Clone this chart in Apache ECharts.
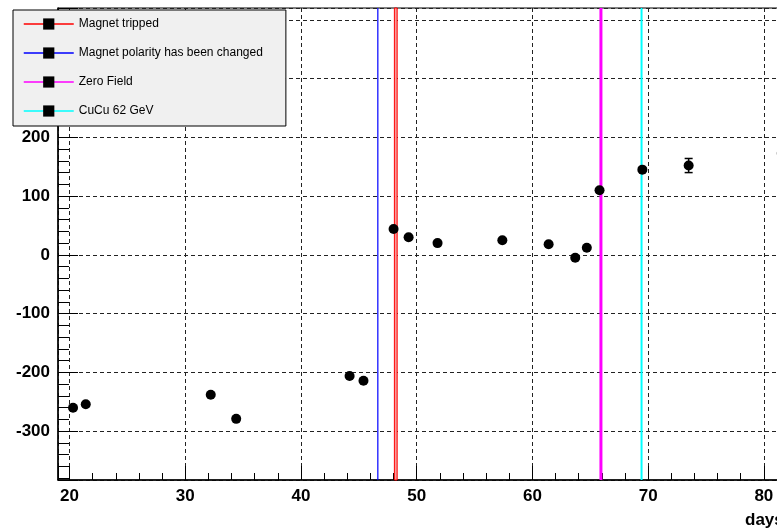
<!DOCTYPE html>
<html>
<head>
<meta charset="utf-8">
<script src="https://cdn.jsdelivr.net/npm/echarts@6/dist/echarts.min.js"></script>
<style>
html, body { margin: 0; padding: 0; background: #fff; }
#main { width: 777px; height: 531px; }
</style>
</head>
<body>
<div id="main"></div>
<script>
// measured points (days, value, error)
var days   = [20.3, 21.4, 32.2, 34.4, 44.2, 45.4, 48.0, 49.3, 51.8, 57.4, 61.4, 63.7, 64.7, 65.8, 69.5, 73.5, 81.55];
var values = [-260, -254, -238, -279, -206, -214, 44, 30, 20, 25, 18, -5, 12, 110, 145, 152, 173];
var errors = [0, 0, 0, 0, 0, 0, 0, 0, 0, 0, 0, 0, 0, 0, 0, 12, 0];

// run events drawn as vertical lines
var eventNames = ['Magnet tripped', 'Magnet polarity has been changed', 'Zero Field', 'CuCu 62 GeV'];
var eventDays  = [48.19, 46.64, 65.92, 69.43];

var xRange = [19, 82];
var yRange = [-383, 420];

var FONT = 'Liberation Sans';

var points = [];
var bars = [];
for (var i = 0; i < days.length; i++) {
    points.push([days[i], values[i]]);
    bars.push([days[i], values[i], errors[i]]);
}

function eventLine(k, color, width) {
    return {
        name: eventNames[k],
        type: 'line',
        symbol: 'rect',
        showSymbol: false,
        silent: true,
        z: 3,
        data: [[eventDays[k], yRange[0]], [eventDays[k], yRange[1]]],
        itemStyle: { color: '#000' },
        lineStyle: { color: color, width: width }
    };
}

var redLine = eventLine(0, '#ff0000', 1);
redLine.lineStyle.opacity = 0;
redLine.markArea = {
    silent: true,
    itemStyle: { color: '#f79a9a', borderColor: '#ff0000', borderWidth: 1 },
    data: [[{ xAxis: eventDays[0] - 0.12 }, { xAxis: eventDays[0] + 0.12 }]]
};

var chart = echarts.init(document.getElementById('main'));
chart.setOption({
    animation: false,
    backgroundColor: '#fff',
    grid: {
        left: 58,
        top: 8,
        right: -10,
        bottom: 51,
        show: true,
        borderColor: '#000',
        borderWidth: 1,
        outerBoundsMode: 'none'
    },
    legend: {
        data: eventNames,
        orient: 'vertical',
        left: 13,
        top: 10,
        padding: [8, 23, 9, 10],
        itemWidth: 50,
        itemHeight: 14,
        itemGap: 17,
        backgroundColor: '#f0f0f0',
        borderColor: '#000',
        borderWidth: 1,
        borderRadius: 0,
        selectedMode: false,
        lineStyle: { width: 1.5, opacity: 1 },
        textStyle: { fontFamily: FONT, fontSize: 12, color: '#000' }
    },
    xAxis: {
        type: 'value',
        min: xRange[0],
        max: xRange[1],
        splitNumber: 6,
        name: 'days',
        nameLocation: 'end',
        nameGap: -42,
        nameTextStyle: {
            fontFamily: FONT, fontSize: 17, fontWeight: 'bold', color: '#000',
            align: 'left', verticalAlign: 'top', padding: [32, 0, 0, 0]
        },
        axisLine: { show: true, onZero: false, lineStyle: { color: '#000', width: 1.5 } },
        axisTick: { show: true, inside: true, length: 14, lineStyle: { color: '#000', width: 1 } },
        minorTick: { show: true, splitNumber: 5, length: 7, lineStyle: { color: '#000', width: 1 } },
        axisLabel: {
            showMinLabel: false,
            showMaxLabel: false,
            margin: 8,
            fontFamily: FONT, fontSize: 17, fontWeight: 'bold', color: '#000',
            formatter: function (v) { return v % 10 === 0 ? String(v) : ''; }
        },
        splitLine: { show: true, lineStyle: { color: '#222', width: 1, type: [4, 3] } }
    },
    yAxis: {
        type: 'value',
        min: yRange[0],
        max: yRange[1],
        splitNumber: 8,
        axisLine: { show: true, onZero: false, lineStyle: { color: '#000', width: 1.5 } },
        axisTick: { show: true, inside: true, length: 20, lineStyle: { color: '#000', width: 1 } },
        minorTick: { show: true, splitNumber: 5, length: 11, lineStyle: { color: '#000', width: 1 } },
        axisLabel: {
            showMinLabel: false,
            showMaxLabel: false,
            margin: 8,
            fontFamily: FONT, fontSize: 17, fontWeight: 'bold', color: '#000',
            formatter: function (v) { return v % 100 === 0 ? String(v) : ''; }
        },
        splitLine: { show: true, lineStyle: { color: '#222', width: 1, type: [4, 3] } }
    },
    series: [
        redLine,
        eventLine(1, '#0000ff', 1.2),
        eventLine(2, '#ff00ff', 3),
        eventLine(3, '#00ffff', 2),
        {
            name: 'errors',
            type: 'custom',
            z: 4,
            silent: true,
            data: bars,
            renderItem: function (params, api) {
                var err = api.value(2);
                if (!err) return null;
                var lo = api.coord([api.value(0), api.value(1) - err]);
                var hi = api.coord([api.value(0), api.value(1) + err]);
                var style = { stroke: '#000', lineWidth: 1.5 };
                return {
                    type: 'group',
                    children: [
                        { type: 'line', shape: { x1: lo[0], y1: lo[1], x2: hi[0], y2: hi[1] }, style: style },
                        { type: 'line', shape: { x1: lo[0] - 4, y1: lo[1], x2: lo[0] + 4, y2: lo[1] }, style: style },
                        { type: 'line', shape: { x1: hi[0] - 4, y1: hi[1], x2: hi[0] + 4, y2: hi[1] }, style: style }
                    ]
                };
            }
        },
        {
            name: 'data',
            type: 'scatter',
            z: 5,
            symbol: 'circle',
            symbolSize: 10,
            itemStyle: { color: '#000', opacity: 1 },
            data: points
        }
    ]
});
</script>
</body>
</html>
